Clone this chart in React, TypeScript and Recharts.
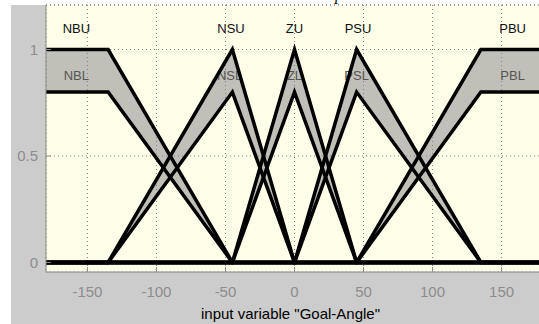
import React from 'react';
import {
  ComposedChart,
  Area,
  Line,
  Scatter,
  XAxis,
  YAxis,
  CartesianGrid,
  ReferenceLine,
} from 'recharts';

// breakpoints of the membership functions (input variable "Goal-Angle")
const xs = [-180, -135, -45, 0, 45, 135, 180];

// upper / lower membership values at each breakpoint
const nbUpper = [1, 1, 0, 0, 0, 0, 0];
const nbLower = [0.8, 0.8, 0, 0, 0, 0, 0];
const nsUpper = [0, 0, 1, 0, 0, 0, 0];
const nsLower = [0, 0, 0.8, 0, 0, 0, 0];
const zUpper = [0, 0, 0, 1, 0, 0, 0];
const zLower = [0, 0, 0, 0.8, 0, 0, 0];
const psUpper = [0, 0, 0, 0, 1, 0, 0];
const psLower = [0, 0, 0, 0, 0.8, 0, 0];
const pbUpper = [0, 0, 0, 0, 0, 1, 1];
const pbLower = [0, 0, 0, 0, 0, 0.8, 0.8];

// set labels
const labelNames = ['NBU', 'NBL', 'NSU', 'NSL', 'ZU', 'ZL', 'PSU', 'PSL', 'PBU', 'PBL'];
const labelX = [-158, -158, -46, -47, 0, 0, 46, 45, 158, 158];
const labelY = [1.1, 0.88, 1.1, 0.88, 1.1, 0.88, 1.1, 0.88, 1.1, 0.88];

const xTicks = [-150, -100, -50, 0, 50, 100, 150];
const yTicks = [0, 0.5, 1];

const FONT = '"Liberation Sans", Arial, sans-serif';
const BAND = '#c0c0b8';
const AXIS_GRAY = '#8c8c8c';
const yDomain: [number, number] = [-0.045, 1.209];

const sets = [
  { key: 'nb', upper: nbUpper, lower: nbLower },
  { key: 'ns', upper: nsUpper, lower: nsLower },
  { key: 'z', upper: zUpper, lower: zLower },
  { key: 'ps', upper: psUpper, lower: psLower },
  { key: 'pb', upper: pbUpper, lower: pbLower },
];

const rows = xs.map((x, i) => {
  const row: any = { x };
  sets.forEach(s => {
    row[s.key + 'U'] = s.upper[i];
    row[s.key + 'L'] = s.lower[i];
    row[s.key + 'R'] = [s.lower[i], s.upper[i]];
  });
  return row;
});

const labelData = labelNames.map((name, i) => ({ name, x: labelX[i], y: labelY[i] }));

const LabelShape = (props: any) => {
  const { cx, cy, payload } = props;
  const lower = payload.name.endsWith('L');
  return (
    <text
      x={cx}
      y={cy}
      dy="0.36em"
      textAnchor="middle"
      fontFamily={FONT}
      fontSize={13}
      fill={lower ? '#555555' : '#111111'}
    >
      {payload.name}
    </text>
  );
};

export default function App() {
  return (
    <div
      style={{
        position: 'fixed',
        left: 0,
        top: 0,
        width: 539,
        height: 324,
        overflow: 'hidden',
        background: '#ffffff',
      }}
    >
      <div
        style={{
          position: 'absolute',
          left: 11,
          top: 5,
          right: 0,
          bottom: 0,
          background: '#cccccc',
        }}
      />
      <div style={{ position: 'absolute', left: 0, top: 0 }}>
        <ComposedChart
          width={560}
          height={324}
          data={rows}
          margin={{ top: 5, right: 17, bottom: 0, left: 0 }}
        >
          <CartesianGrid fill="#fefee9" horizontal={false} vertical={false} />
          {sets.map(s => (
            <Area
              key={s.key + 'R'}
              type="linear"
              dataKey={s.key + 'R'}
              stroke="none"
              fill={BAND}
              fillOpacity={1}
              isAnimationActive={false}
              activeDot={false}
            />
          ))}
          <CartesianGrid
            fill="none"
            stroke="#808080"
            strokeDasharray="1 3"
            zIndex={200}
          />
          <ReferenceLine y={yDomain[1]} stroke="#808080" strokeDasharray="1 3" zIndex={200} />
          <Scatter
            data={labelData}
            dataKey="y"
            shape={LabelShape}
            isAnimationActive={false}
            zIndex={300}
          />
          {sets.map(s => (
            <Line
              key={s.key + 'L'}
              type="linear"
              dataKey={s.key + 'L'}
              stroke="#000000"
              strokeWidth={3.5}
              dot={false}
              activeDot={false}
              isAnimationActive={false}
            />
          ))}
          {sets.map(s => (
            <Line
              key={s.key + 'U'}
              type="linear"
              dataKey={s.key + 'U'}
              stroke="#000000"
              strokeWidth={3.5}
              dot={false}
              activeDot={false}
              isAnimationActive={false}
            />
          ))}
          <XAxis
            dataKey="x"
            type="number"
            domain={[-180, 180]}
            ticks={xTicks}
            allowDataOverflow
            height={52}
            tickSize={-5}
            tickMargin={19}
            axisLine={{ stroke: AXIS_GRAY }}
            tickLine={{ stroke: AXIS_GRAY }}
            tick={{ fill: AXIS_GRAY, fontSize: 15, fontFamily: FONT }}
            label={{
              value: 'input variable "Goal-Angle"',
              position: 'insideBottom',
              offset: 5,
              dx: -4,
              fill: '#000000',
              fontSize: 15,
              fontFamily: FONT,
            }}
          />
          <YAxis
            type="number"
            domain={yDomain}
            ticks={yTicks}
            allowDataOverflow
            width={46}
            tickSize={-5}
            tickMargin={13}
            axisLine={{ stroke: AXIS_GRAY }}
            tickLine={{ stroke: AXIS_GRAY }}
            tick={{ fill: AXIS_GRAY, fontSize: 15, fontFamily: FONT }}
          />
        </ComposedChart>
      </div>
      <span
        style={{
          position: 'absolute',
          left: 335,
          top: -14,
          fontFamily: '"Liberation Serif", serif',
          fontStyle: 'italic',
          fontSize: 16,
          color: '#000',
        }}
      >
        p
      </span>
    </div>
  );
}
